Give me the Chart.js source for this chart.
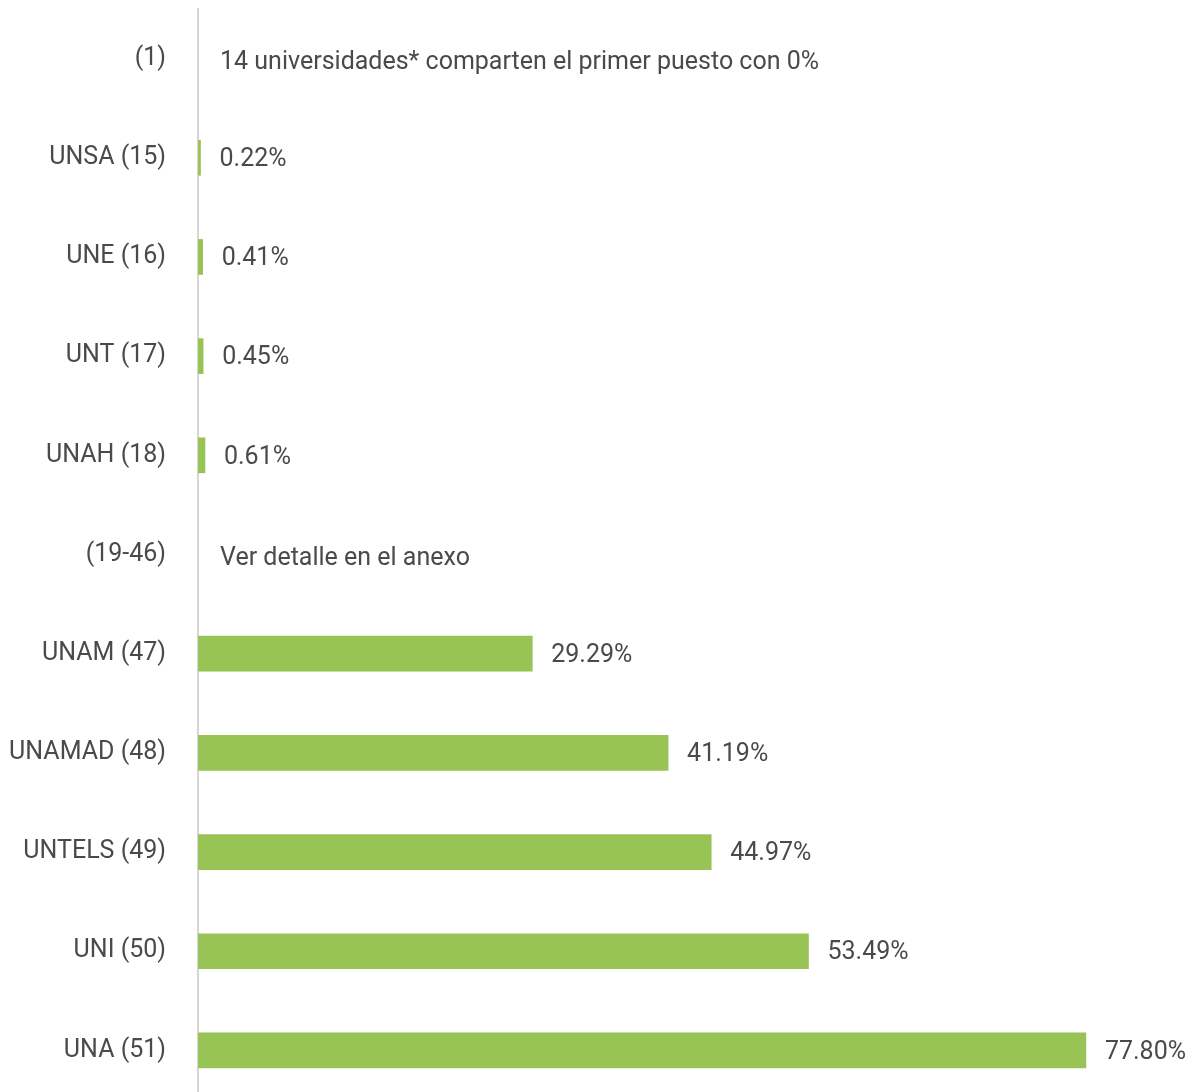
<!DOCTYPE html>
<html>
<head>
<meta charset="utf-8">
<script src="https://cdn.jsdelivr.net/npm/chart.js@4"></script>
<style>
  html, body { margin: 0; padding: 0; background: #fff; overflow: hidden; }
  #wrap { width: 1195px; height: 1100px; }
</style>
</head>
<body>
<div id="wrap"><canvas id="canvas"></canvas></div>
<script>
var universidades = ['(1)', 'UNSA (15)', 'UNE (16)', 'UNT (17)', 'UNAH (18)', '(19-46)',
    'UNAM (47)', 'UNAMAD (48)', 'UNTELS (49)', 'UNI (50)', 'UNA (51)'];

var porcentaje = [null, 0.22, 0.41, 0.45, 0.61, null, 29.29, 41.19, 44.97, 53.49, 77.80];

var notas = ['14 universidades* comparten el primer puesto con 0%', '', '', '', '', 'Ver detalle en el anexo',
    '', '', '', '', ''];

var fuente = "Roboto, sans-serif";
var gris = '#4a4a4a';

// etiquetas de valor y notas de texto
var etiquetas = {
    id: 'etiquetas',
    afterDatasetsDraw: function(chart) {
        var ctx = chart.ctx;
        var yScale = chart.scales.y;
        var xScale = chart.scales.x;
        ctx.save();
        ctx.font = '25px ' + fuente;
        ctx.fillStyle = gris;
        ctx.textBaseline = 'middle';
        ctx.textAlign = 'left';
        for (var i = 0; i < universidades.length; i++) {
            var y = yScale.getPixelForValue(i) + 2;
            if (porcentaje[i] !== null) {
                var x = xScale.getPixelForValue(porcentaje[i]);
                ctx.fillText(porcentaje[i].toFixed(2) + '%', x + 19, y);
            } else {
                ctx.fillText(notas[i], xScale.left + 22, y + 2);
            }
        }
        ctx.restore();
    }
};

window.onload = function() {
    var ctx = document.getElementById('canvas').getContext('2d');
    window.myBar = new Chart(ctx, {
        type: 'bar',
        data: {
            labels: universidades,
            datasets: [{
                data: porcentaje,
                backgroundColor: '#97c454',
                borderWidth: 0,
                barThickness: 35
            }]
        },
        options: {
            indexAxis: 'y',
            responsive: true,
            maintainAspectRatio: false,
            animation: false,
            layout: { padding: { top: 9, bottom: 0, left: 0, right: 0 } },
            plugins: {
                legend: { display: false },
                tooltip: { enabled: false }
            },
            scales: {
                x: {
                    display: false,
                    min: 0,
                    max: 87.36
                },
                y: {
                    afterFit: function(scale) {
                        scale.width = 198;
                        scale.paddingTop = 0;
                        scale.paddingBottom = 0;
                    },
                    grid: { display: false, drawTicks: false },
                    border: { display: true, color: '#d6d6d6', width: 2 },
                    ticks: {
                        padding: 32,
                        color: gris,
                        font: { family: fuente, size: 25 }
                    }
                }
            }
        },
        plugins: [etiquetas]
    });
};
</script>
</body>
</html>
